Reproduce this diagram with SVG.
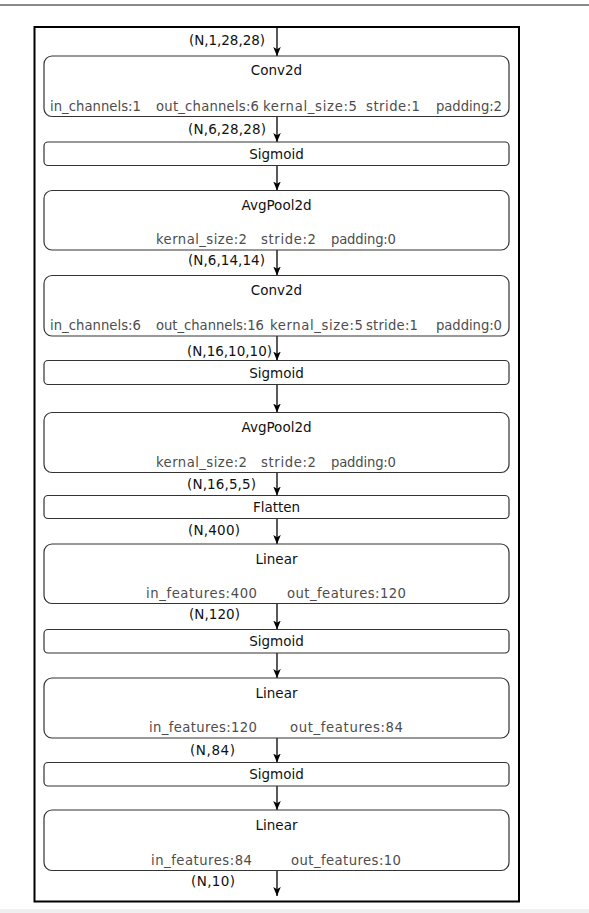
<svg xmlns="http://www.w3.org/2000/svg" width="589" height="913" viewBox="0 0 589 913">
<defs>
<marker id="ah" viewBox="0 0 10 10" refX="10" refY="5" markerWidth="9" markerHeight="9" markerUnits="userSpaceOnUse" orient="auto">
<path d="M0,0.8 L10,5 L0,9.2 L2.5,5 Z" fill="#000"/>
</marker>
</defs>
<style>
.box{fill:#fff;stroke:#333;stroke-width:1.2}
.t{font-family:"DejaVu Sans","Liberation Sans",sans-serif;font-size:13.5px;fill:#111;text-anchor:middle}
.p{font-family:"DejaVu Sans","Liberation Sans",sans-serif;font-size:13.2px;fill:#4d4d4d}
.l{font-family:"DejaVu Sans","Liberation Sans",sans-serif;font-size:13.5px;fill:#111}
.c{stroke:#000;stroke-width:1.3;fill:none;marker-end:url(#ah)}
</style>
<rect x="0" y="0" width="589" height="913" fill="#fff"/>
<line x1="0" y1="5" x2="589" y2="5" stroke="#8a8a8a" stroke-width="2"/>
<rect x="0" y="909" width="589" height="4" fill="#f0f0f0"/>
<rect x="34.5" y="27" width="484.5" height="874.5" fill="none" stroke="#000" stroke-width="2"/>

<g id="connectors">
<line class="c" x1="277" y1="28" x2="277" y2="56"/>
<line class="c" x1="277" y1="116.5" x2="277" y2="142"/>
<line class="c" x1="277" y1="165.5" x2="277" y2="190.5"/>
<line class="c" x1="277" y1="250" x2="277" y2="275.5"/>
<line class="c" x1="277" y1="336" x2="277" y2="360.5"/>
<line class="c" x1="277" y1="384.5" x2="277" y2="412.5"/>
<line class="c" x1="277" y1="472.5" x2="277" y2="495.5"/>
<line class="c" x1="277" y1="518.5" x2="277" y2="544"/>
<line class="c" x1="277" y1="603.5" x2="277" y2="629.5"/>
<line class="c" x1="277" y1="653" x2="277" y2="678"/>
<line class="c" x1="277" y1="738" x2="277" y2="762.5"/>
<line class="c" x1="277" y1="786" x2="277" y2="810"/>
<line class="c" x1="277" y1="870.5" x2="277" y2="896"/>
</g>

<g id="labels">
<text class="l" x="189" y="44.5" textLength="76">(N,1,28,28)</text>
<text class="l" x="188" y="134" textLength="78">(N,6,28,28)</text>
<text class="l" x="188" y="265" textLength="77">(N,6,14,14)</text>
<text class="l" x="187" y="356" textLength="85">(N,16,10,10)</text>
<text class="l" x="187" y="489" textLength="69">(N,16,5,5)</text>
<text class="l" x="188" y="535" textLength="52">(N,400)</text>
<text class="l" x="189" y="619" textLength="51">(N,120)</text>
<text class="l" x="190" y="755" textLength="45">(N,84)</text>
<text class="l" x="191" y="886" textLength="44">(N,10)</text>
</g>

<g id="conv2d-1">
<rect class="box" x="44" y="56" width="465" height="60.5" rx="8"/>
<text class="t" x="276.5" y="75">Conv2d</text>
<text class="p" x="50" y="110.5" textLength="91">in_channels:1</text>
<text class="p" x="156" y="110.5" textLength="103">out_channels:6</text>
<text class="p" x="263" y="110.5" textLength="94">kernal_size:5</text>
<text class="p" x="366" y="110.5" textLength="54">stride:1</text>
<text class="p" x="436" y="110.5" textLength="66">padding:2</text>
</g>

<g id="sigmoid-1">
<rect class="box" x="44" y="142" width="465" height="23.5" rx="4"/>
<text class="t" x="276.5" y="158.5">Sigmoid</text>
</g>

<g id="avgpool2d-1">
<rect class="box" x="44" y="190.5" width="465" height="59.5" rx="8"/>
<text class="t" x="276.5" y="210">AvgPool2d</text>
<text class="p" x="156" y="244" textLength="91">kernal_size:2</text>
<text class="p" x="261" y="244" textLength="55">stride:2</text>
<text class="p" x="331" y="244" textLength="65">padding:0</text>
</g>

<g id="conv2d-2">
<rect class="box" x="44" y="275.5" width="465" height="60.5" rx="8"/>
<text class="t" x="276.5" y="295">Conv2d</text>
<text class="p" x="50" y="330" textLength="91">in_channels:6</text>
<text class="p" x="156" y="330" textLength="108">out_channels:16</text>
<text class="p" x="270" y="330" textLength="93">kernal_size:5</text>
<text class="p" x="366" y="330" textLength="52">stride:1</text>
<text class="p" x="436" y="330" textLength="66">padding:0</text>
</g>

<g id="sigmoid-2">
<rect class="box" x="44" y="360.5" width="465" height="24" rx="4"/>
<text class="t" x="276.5" y="377.5">Sigmoid</text>
</g>

<g id="avgpool2d-2">
<rect class="box" x="44" y="412.5" width="465" height="60" rx="8"/>
<text class="t" x="276.5" y="432">AvgPool2d</text>
<text class="p" x="156" y="466.5" textLength="91">kernal_size:2</text>
<text class="p" x="261" y="466.5" textLength="55">stride:2</text>
<text class="p" x="331" y="466.5" textLength="65">padding:0</text>
</g>

<g id="flatten">
<rect class="box" x="44" y="495.5" width="465" height="23" rx="4"/>
<text class="t" x="276.5" y="511.5">Flatten</text>
</g>

<g id="linear-1">
<rect class="box" x="44" y="544" width="465" height="59.5" rx="8"/>
<text class="t" x="276.5" y="563.5">Linear</text>
<text class="p" x="146" y="597.5" textLength="111">in_features:400</text>
<text class="p" x="287" y="597.5" textLength="119">out_features:120</text>
</g>

<g id="sigmoid-3">
<rect class="box" x="44" y="629.5" width="465" height="23.5" rx="4"/>
<text class="t" x="276.5" y="646">Sigmoid</text>
</g>

<g id="linear-2">
<rect class="box" x="44" y="678" width="465" height="60" rx="8"/>
<text class="t" x="276.5" y="697.5">Linear</text>
<text class="p" x="149" y="732" textLength="108">in_features:120</text>
<text class="p" x="290" y="732" textLength="113">out_features:84</text>
</g>

<g id="sigmoid-4">
<rect class="box" x="44" y="762.5" width="465" height="23.5" rx="4"/>
<text class="t" x="276.5" y="779">Sigmoid</text>
</g>

<g id="linear-3">
<rect class="box" x="44" y="810" width="465" height="60.5" rx="8"/>
<text class="t" x="276.5" y="829.5">Linear</text>
<text class="p" x="151" y="864.5" textLength="101">in_features:84</text>
<text class="p" x="291" y="864.5" textLength="110">out_features:10</text>
</g>
</svg>
